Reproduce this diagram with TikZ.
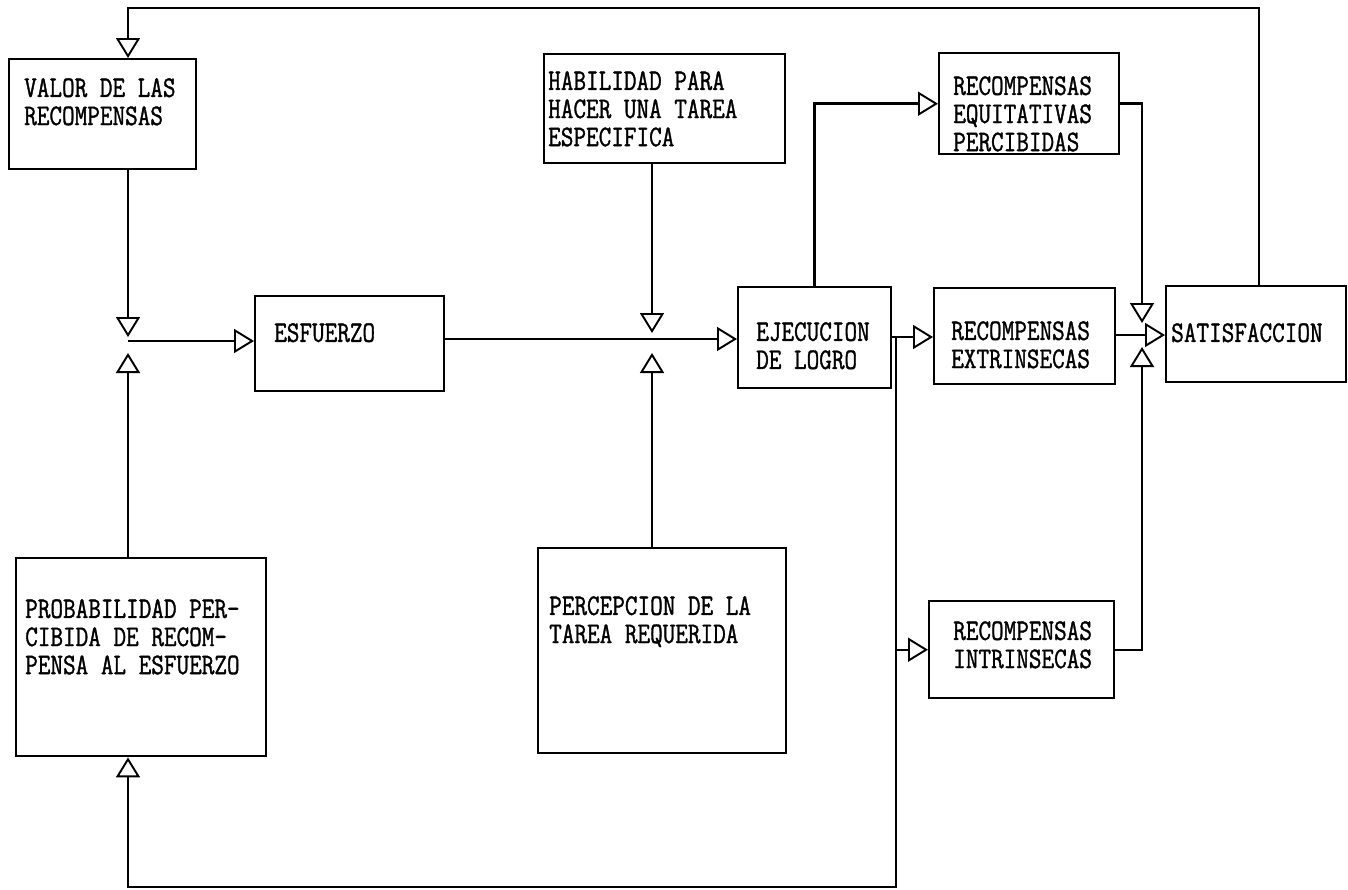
\documentclass[tikz,border=0pt]{standalone}
\usepackage{fontspec}
\usepackage{tikz}
\usetikzlibrary{arrows.meta,positioning,calc}
\newfontfamily\typewr[FakeStretch=0.82,FakeBold=1.2]{Latin Modern Mono}

\begin{document}
\begin{tikzpicture}[x=0.02cm,y=-0.02cm,line width=1.4pt]
\tikzstyle{B}=[draw,inner sep=0pt,anchor=north west]
\tikzstyle{T}=[inner sep=0pt,anchor=north west,align=left,
font=\typewr\fontsize{17}{16}\selectfont]
\tikzstyle{A}=[-{Triangle[fill=white,length=0.4cm,width=0.48cm,line width=1.1pt]}]
\useasboundingbox (0,0) rectangle (1348,889);
% boxes
\node[B,minimum width=3.74cm,minimum height=2.2cm](valor) at (8,58) {};
\node[B,minimum width=3.78cm,minimum height=1.9cm](esf) at (254,295) {};
\node[B,minimum width=4.82cm,minimum height=2.18cm](hab) at (543,53) {};
\node[B,minimum width=3.06cm,minimum height=2.02cm](ejec) at (737,286) {};
\node[B,minimum width=3.6cm,minimum height=2.02cm](receq) at (938,52) {};
\node[B,minimum width=3.62cm,minimum height=1.92cm](recext) at (933,287) {};
\node[B,minimum width=3.6cm,minimum height=1.92cm](satisf) at (1165,285) {};
\node[B,minimum width=3.7cm,minimum height=1.94cm](recint) at (928,600) {};
\node[B,minimum width=5cm,minimum height=3.96cm](prob) at (15,557) {};
\node[B,minimum width=4.96cm,minimum height=4.1cm](percep) at (537,547) {};
% texts
\node[T](valort) at (23,77) {VALOR DE LAS\\RECOMPENSAS};
\node[T](esft) at (273,322) {ESFUERZO};
\node[T](habt) at (547,70) {HABILIDAD PARA\\HACER UNA TAREA\\ESPECIFICA};
\node[T](eject) at (755,321) {EJECUCION\\DE LOGRO};
\node[T](receqt) at (952,75) {RECOMPENSAS\\EQUITATIVAS\\PERCIBIDAS};
\node[T](recextt) at (950,320) {RECOMPENSAS\\EXTRINSECAS};
\node[T](satisft) at (1170,322) {SATISFACCION};
\node[T](recintt) at (952,620) {RECOMPENSAS\\INTRINSECAS};
\node[T](probt) at (24,598) {PROBABILIDAD PER-\\CIBIDA DE RECOM-\\PENSA AL ESFUERZO};
\node[T](percept) at (548,595) {PERCEPCION DE LA\\TAREA REQUERIDA};
% junctions
\coordinate (j1) at (128,341);
\coordinate (j1n) at (128,337);
\coordinate (j1s) at (128,353);
\coordinate (j2) at (652,339);
\coordinate (j2n) at (652,333);
\coordinate (j2s) at (652,353);
\coordinate (j3) at (896,337);
\coordinate (j4) at (1142,335);
\coordinate (j4n) at (1142,323);
\coordinate (j4s) at (1142,347);
\coordinate (fb) at (896,887);
\coordinate (top) at (1259,8);
% connectors
\draw[A](valor.south -| j1)--(j1n);
\draw[A](prob.north -| j1)--(j1s);
\draw[A](j1)--(j1 -| esf.west);
\draw[A](esf.east |- j2)--(ejec.west |- j2);
\draw[A](hab.south -| j2)--(j2n);
\draw[A](percep.north -| j2)--(j2s);
\draw[A](ejec.north)|-(receq.west);
\draw(ejec.east |- j3)--(j3);
\draw[A](j3)--(j3 -| recext.west);
\draw[A](j3)|-(recint.west);
\draw[A](j3)--(fb)-|(prob.south -| j1);
\draw[A](receq.east)-|(j4n);
\draw[A](recext.east |- j4)--(j4 -| satisf.west);
\draw[A](recint.east)-|(j4s);
\draw[A](satisf.north -| top)--(top)-|(valor.north -| j1);
\end{tikzpicture}
\end{document}
